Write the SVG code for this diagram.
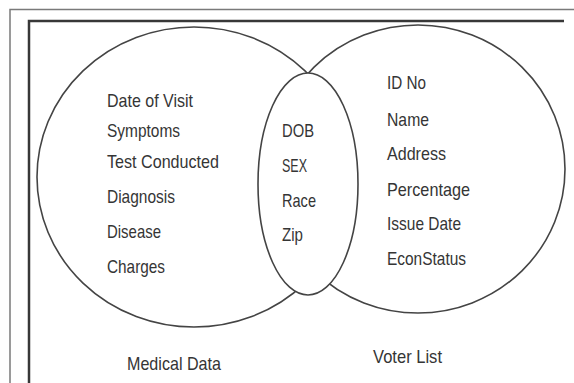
<svg xmlns="http://www.w3.org/2000/svg" width="574" height="383" viewBox="0 0 574 383">
<style>
.frame-outer{fill:none;stroke:#7a7a7a;stroke-width:1.5}
.frame-inner{fill:none;stroke:#383838;stroke-width:2.5}
.set{fill:none;stroke:#444;stroke-width:1.6}
.mid{fill:#fff;stroke:#444;stroke-width:1.6}
text{font-family:"Liberation Sans",Arial,sans-serif;font-size:19px;fill:#353535}
</style>
<rect width="574" height="383" fill="#fff"/>
<path class="frame-outer" d="M10,383 V9.5 H574"/>
<path class="frame-inner" d="M29,383 V21 H564"/>
<g id="medical-data">
<ellipse class="set" cx="194" cy="177" rx="157" ry="150"/>
<text x="107" y="107" textLength="86" lengthAdjust="spacingAndGlyphs">Date of Visit</text>
<text x="107" y="137" textLength="73" lengthAdjust="spacingAndGlyphs">Symptoms</text>
<text x="107" y="168" textLength="112" lengthAdjust="spacingAndGlyphs">Test Conducted</text>
<text x="107" y="203" textLength="68" lengthAdjust="spacingAndGlyphs">Diagnosis</text>
<text x="107" y="238" textLength="54" lengthAdjust="spacingAndGlyphs">Disease</text>
<text x="107" y="273" textLength="58" lengthAdjust="spacingAndGlyphs">Charges</text>
<text x="127" y="370" textLength="94" lengthAdjust="spacingAndGlyphs">Medical Data</text>
</g>
<g id="voter-list">
<ellipse class="set" cx="418" cy="169" rx="147" ry="144"/>
<text x="387" y="89" textLength="39" lengthAdjust="spacingAndGlyphs">ID No</text>
<text x="387" y="126" textLength="42" lengthAdjust="spacingAndGlyphs">Name</text>
<text x="387" y="160" textLength="59" lengthAdjust="spacingAndGlyphs">Address</text>
<text x="387" y="196" textLength="83" lengthAdjust="spacingAndGlyphs">Percentage</text>
<text x="387" y="230" textLength="74" lengthAdjust="spacingAndGlyphs">Issue Date</text>
<text x="387" y="265" textLength="79" lengthAdjust="spacingAndGlyphs">EconStatus</text>
<text x="373" y="363" textLength="69" lengthAdjust="spacingAndGlyphs">Voter List</text>
</g>
<g id="common">
<ellipse class="mid" cx="308" cy="184" rx="50" ry="111"/>
<text x="282" y="137" textLength="32" lengthAdjust="spacingAndGlyphs">DOB</text>
<text x="282" y="172" textLength="25" lengthAdjust="spacingAndGlyphs">SEX</text>
<text x="282" y="207" textLength="34" lengthAdjust="spacingAndGlyphs">Race</text>
<text x="282" y="241" textLength="21" lengthAdjust="spacingAndGlyphs">Zip</text>
</g>
<g id="connectors"></g>
</svg>
